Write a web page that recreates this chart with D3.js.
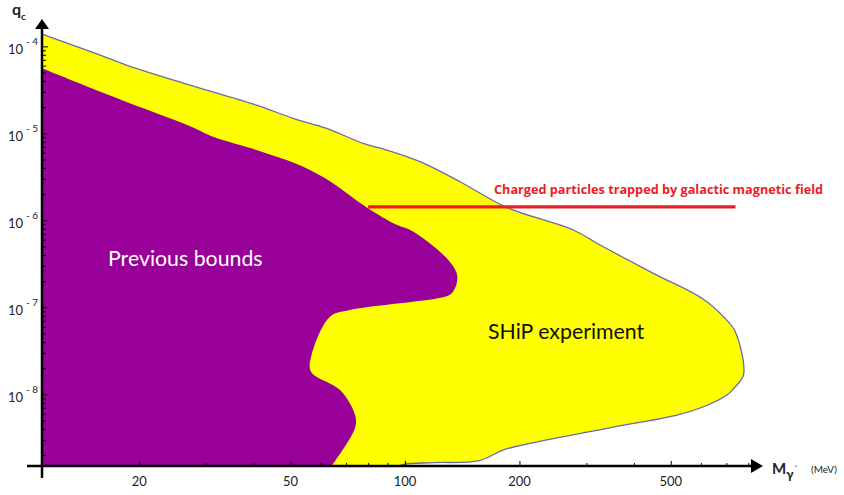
<!DOCTYPE html>
<html>
<head>
<meta charset="utf-8">
<script src="https://cdn.jsdelivr.net/npm/d3@7"></script>
<style>
  body { margin: 0; background: #fff; }
  text { font-family: Lato, "Open Sans", sans-serif; }
</style>
</head>
<body>
<svg id="chart" width="844" height="495"></svg>
<script>
// SHiP reach, outer contour (mass in MeV, millicharge q_c)
const shipMass   = [11.1, 15.8, 18.5, 27.2, 40.7, 50.8, 62.2, 77.6, 89.5, 109.5, 139.5, 185, 277, 326, 450, 604, 688, 739, 777, 739, 703, 610, 519, 340, 213, 181, 157, 119, 100, 96]
const shipCharge = [1.38e-4, 7.94e-5, 6.1e-5, 3.59e-5, 2.11e-5, 1.49e-5, 1.14e-5, 7.67e-6, 6.43e-6, 4.72e-6, 2.78e-6, 1.41e-6, 7.74e-7, 5.2e-7, 2.46e-7, 1.27e-7, 7.8e-8, 5.25e-8, 1.67e-8, 1.22e-8, 9.8e-9, 7.2e-9, 5.78e-9, 4.07e-9, 2.73e-9, 2.29e-9, 1.73e-9, 1.64e-9, 1.58e-9, 1.5e-9]

// previous bounds contour
const prevMass   = [11.1, 15.8, 22.2, 27.7, 31.3, 40.7, 54.0, 64.8, 77.6, 93.2, 105.2, 128.8, 136.8, 136.8, 132.7, 127.4, 71.7, 63.5, 56.8, 56.6, 67.5, 73.9, 73.9, 64.1]
const prevCharge = [5.59e-5, 3.01e-5, 1.70e-5, 1.17e-5, 9.14e-6, 6.43e-6, 4.13e-6, 2.66e-6, 1.50e-6, 9.25e-7, 7.4e-7, 3.66e-7, 2.46e-7, 1.89e-7, 1.45e-7, 1.32e-7, 9.3e-8, 7.8e-8, 2.83e-8, 1.82e-8, 1.12e-8, 5.78e-9, 4.1e-9, 1.5e-9]

// galactic magnetic field line
const galacticMass = [80, 740]
const galacticCharge = 1.43e-6

const xTickLabels = [20, 50, 100, 200, 500]
const yTickPowers = [-4, -5, -6, -7, -8]

const massMin = 11.1, massMax = 843
const qMin = 1.5e-9, qMax = 1.76e-4

const svg = d3.select("#chart")
const x = d3.scaleLog().domain([massMin, massMax]).range([42, 757])
const y = d3.scaleLog().domain([qMin, qMax]).range([466, 25])

const line = d3.line().x(d => x(d[0])).y(d => y(d[1])).curve(d3.curveCatmullRom.alpha(0.5))

let ship = shipMass.map((m, i) => [m, shipCharge[i]])
let prev = prevMass.map((m, i) => [m, prevCharge[i]])
let corner = "L" + x(massMin) + "," + y(qMin) + "Z" // close along the axes

// fills
svg.append("path")
    .attr("d", line(ship) + corner)
    .attr("fill", "#ffff00")
svg.append("path")
    .attr("d", line(ship))
    .attr("fill", "none").attr("stroke", "#6b6ba3").attr("stroke-width", 1.3)

svg.append("path")
    .attr("d", line(prev) + corner)
    .attr("fill", "#990099")

// red line
svg.append("line")
    .attr("x1", x(galacticMass[0])).attr("x2", x(galacticMass[1]))
    .attr("y1", y(galacticCharge)).attr("y2", y(galacticCharge))
    .attr("stroke", "#ed1c24").attr("stroke-width", 3.2)

svg.append("text")
    .attr("x", 494).attr("y", 194)
    .attr("fill", "#ed1c24").attr("font-size", 12.7).attr("font-weight", "bold")
    .style("font-family", "'Open Sans', sans-serif")
    .text("Charged particles trapped by galactic magnetic field")

svg.append("text")
    .attr("x", 108).attr("y", 266)
    .attr("fill", "#fff").attr("font-size", 21.3)
    .text("Previous bounds")

svg.append("text")
    .attr("x", 488).attr("y", 339)
    .attr("fill", "#111").attr("font-size", 21.3)
    .text("SHiP experiment")

// ticks
const xAll = x.ticks().filter(v => v >= 20)
svg.append("g").attr("transform", "translate(0,466)")
    .call(d3.axisTop(x).tickValues(xAll.filter(v => !xTickLabels.includes(v))).tickSize(3).tickFormat(""))
svg.append("g").attr("transform", "translate(0,466)")
    .call(d3.axisTop(x).tickValues(xTickLabels).tickSize(5).tickFormat(""))

const yMajor = yTickPowers.map(p => Math.pow(10, p))
const yAll = y.ticks().filter(v => !yMajor.some(m => Math.abs(m - v) / m < 1e-6))
svg.append("g").attr("transform", "translate(42,0)")
    .call(d3.axisRight(y).tickValues(yAll).tickSize(4).tickFormat(""))
svg.append("g").attr("transform", "translate(42,0)")
    .call(d3.axisRight(y).tickValues(yMajor).tickSize(6).tickFormat(""))

svg.selectAll(".domain").remove()
svg.selectAll(".tick line").attr("stroke", "#000").attr("stroke-width", 1)

// tick labels
svg.selectAll(".xlab").data(xTickLabels).enter().append("text")
    .attr("x", d => x(d)).attr("y", 486)
    .attr("text-anchor", "middle").attr("font-size", 13).attr("fill", "#222")
    .text(d => d)

let ylab = svg.selectAll(".ylab").data(yTickPowers).enter().append("text")
    .attr("x", 8).attr("y", d => y(Math.pow(10, d)) + 8)
    .attr("font-size", 13).attr("fill", "#222")
ylab.append("tspan").text("10")
ylab.append("tspan").attr("dx", 3).attr("dy", -9).attr("font-size", 10).text(d => "- " + Math.abs(d))

// axes lines with arrows
svg.append("line").attr("x1", 27).attr("x2", 753).attr("y1", 466).attr("y2", 466)
    .attr("stroke", "#000").attr("stroke-width", 2.5)
svg.append("path").attr("d", "M751,459 L763,466 L751,473 Z").attr("fill", "#000")
svg.append("line").attr("x1", 42).attr("x2", 42).attr("y1", 478).attr("y2", 28)
    .attr("stroke", "#000").attr("stroke-width", 2.5)
svg.append("path").attr("d", "M35,29 L42,19 L49,29 Z").attr("fill", "#000")

// axis titles
let qt = svg.append("text").attr("x", 12).attr("y", 15).attr("font-weight", "bold").attr("fill", "#222")
qt.append("tspan").attr("font-size", 16).text("q")
qt.append("tspan").attr("font-size", 10).attr("dy", 5).text("c")

let mt = svg.append("text").attr("x", 772).attr("y", 474).attr("font-weight", "bold").attr("fill", "#222")
mt.append("tspan").attr("font-size", 15).text("M")
mt.append("tspan").attr("font-size", 13).attr("dy", 5).text("γ")
mt.append("tspan").attr("font-size", 10).attr("dy", -6).attr("font-weight", "normal").text("´")
svg.append("text").attr("x", 811).attr("y", 473).attr("font-size", 10).attr("fill", "#222").text("(MeV)")
</script>
</body>
</html>
